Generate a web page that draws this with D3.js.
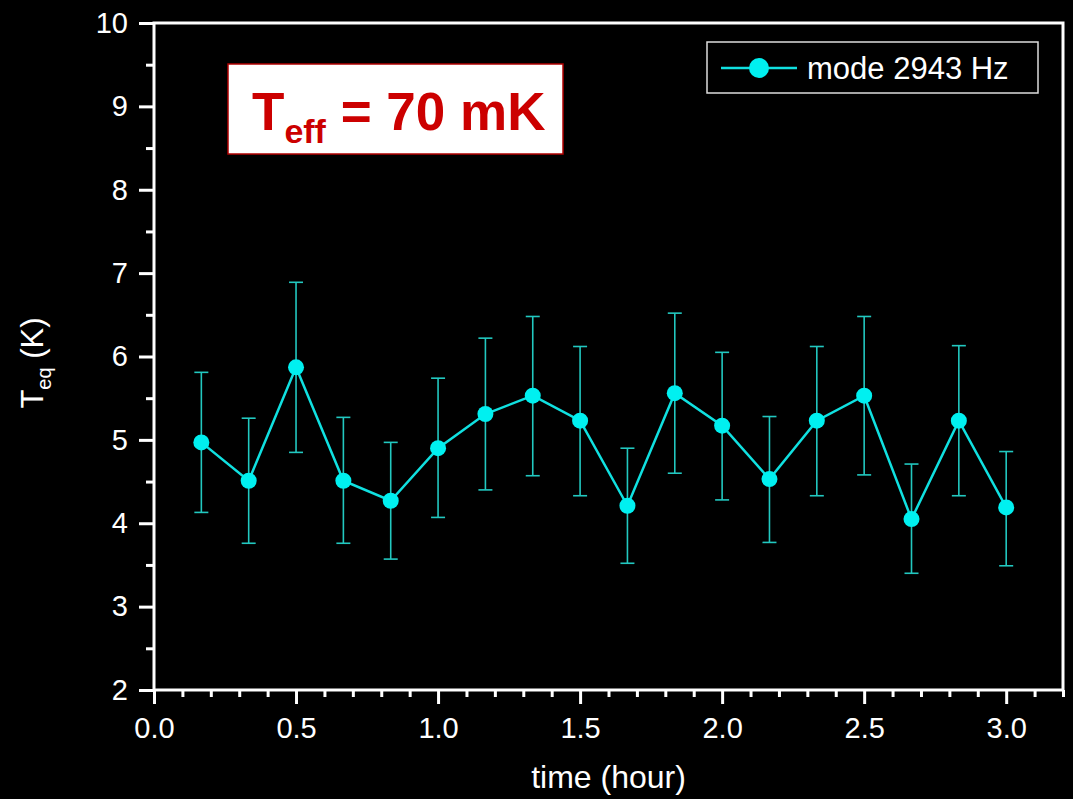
<!DOCTYPE html>
<html>
<head>
<meta charset="utf-8">
<script src="https://cdn.jsdelivr.net/npm/d3@7"></script>
<style>
  body { margin: 0; background: #000; }
  svg { display: block; font-family: "Liberation Sans", Arial, sans-serif; }
</style>
</head>
<body>
<svg></svg>
<script>
const width = 1073
const height = 799

// data
const times = [1/6, 2/6, 3/6, 4/6, 5/6, 1, 7/6, 8/6, 9/6, 10/6, 11/6, 2, 13/6, 14/6, 15/6, 16/6, 17/6, 3]
const teq = [4.97, 4.51, 5.87, 4.51, 4.27, 4.90, 5.31, 5.53, 5.23, 4.21, 5.56, 5.17, 4.53, 5.23, 5.53, 4.05, 5.23, 4.19]
const errHigh = [5.81, 5.26, 6.89, 5.27, 4.97, 5.74, 6.22, 6.48, 6.12, 4.90, 6.52, 6.05, 5.28, 6.12, 6.48, 4.71, 6.13, 4.86]
const errLow = [4.13, 3.76, 4.85, 3.76, 3.57, 4.07, 4.40, 4.57, 4.33, 3.52, 4.60, 4.28, 3.77, 4.33, 4.58, 3.40, 4.33, 3.49]
const xMajor = [0, 0.5, 1.0, 1.5, 2.0, 2.5, 3.0]
const yMajor = [2, 3, 4, 5, 6, 7, 8, 9, 10]
const legendLabel = "mode 2943 Hz"

const data = times.map((t, i) => ({ t: t, v: teq[i], hi: errHigh[i], lo: errLow[i] }))

const svg = d3.select("svg")
    .attr("width", width)
    .attr("height", height)

svg.append("rect").attr("width", width).attr("height", height).attr("fill", "#000")

const margin = { top: 23, right: 10, bottom: 109, left: 154 }
const innerWidth = width - margin.left - margin.right
const innerHeight = height - margin.top - margin.bottom

const xScale = d3.scaleLinear().domain([0, 3.2]).range([0, innerWidth])
const yScale = d3.scaleLinear().domain([2, 10]).range([innerHeight, 0])

const g = svg.append("g")
    .attr("transform", `translate(${margin.left}, ${margin.top})`)

// Axes
const xMinor = d3.range(0, 33).map(d => d / 10).filter(d => Math.abs(d * 2 - Math.round(d * 2)) > 1e-6)
const yMinor = d3.range(2.5, 10, 1)

const styleAxis = sel => {
    sel.selectAll(".domain").remove()
    sel.selectAll(".tick line").attr("stroke", "#fff").attr("stroke-width", 3)
    sel.selectAll("text").attr("fill", "#fff").attr("font-size", "29px")
}
const dropText = sel => sel.selectAll("text").remove()

g.append("g").attr("transform", `translate(0, ${innerHeight})`)
    .call(d3.axisBottom(xScale).tickValues(xMinor).tickSize(7))
    .call(styleAxis).call(dropText)
g.append("g").attr("transform", `translate(0, ${innerHeight})`)
    .call(d3.axisBottom(xScale).tickValues(xMajor).tickSize(14).tickPadding(13).tickFormat(d3.format(".1f")))
    .call(styleAxis)

g.append("g")
    .call(d3.axisLeft(yScale).tickValues(yMinor).tickSize(8))
    .call(styleAxis).call(dropText)
g.append("g")
    .call(d3.axisLeft(yScale).tickValues(yMajor).tickSize(15).tickPadding(11).tickFormat(d3.format("d")))
    .call(styleAxis)

// frame
g.append("rect")
    .attr("width", innerWidth)
    .attr("height", innerHeight)
    .attr("fill", "none")
    .attr("stroke", "#fff")
    .attr("stroke-width", 3)

// Axis titles
svg.append("text")
    .attr("x", margin.left + xScale(1.6))
    .attr("y", 788)
    .attr("text-anchor", "middle")
    .attr("fill", "#fff")
    .attr("font-size", "32px")
    .text("time (hour)")

const yTitle = svg.append("text")
    .attr("transform", "translate(43, 363) rotate(-90)")
    .attr("text-anchor", "middle")
    .attr("fill", "#fff")
    .attr("font-size", "31px")
yTitle.append("tspan").text("T")
yTitle.append("tspan").attr("font-size", "20px").attr("dy", 8).text("eq")
yTitle.append("tspan").attr("dy", -8).text(" (K)")

// error bars
const errColor = "#22c8c0"
const errG = g.append("g").attr("stroke", errColor).attr("stroke-width", 1.6)
errG.selectAll(".err").data(data).enter().append("line")
    .attr("x1", d => xScale(d.t)).attr("x2", d => xScale(d.t))
    .attr("y1", d => yScale(d.hi)).attr("y2", d => yScale(d.lo))
errG.selectAll(".capHi").data(data).enter().append("line")
    .attr("x1", d => xScale(d.t) - 7).attr("x2", d => xScale(d.t) + 7)
    .attr("y1", d => yScale(d.hi)).attr("y2", d => yScale(d.hi))
errG.selectAll(".capLo").data(data).enter().append("line")
    .attr("x1", d => xScale(d.t) - 7).attr("x2", d => xScale(d.t) + 7)
    .attr("y1", d => yScale(d.lo)).attr("y2", d => yScale(d.lo))

// line + markers
const lineColor = "#10e0e0"
const line = d3.line().x(d => xScale(d.t)).y(d => yScale(d.v))
g.append("path").datum(data)
    .attr("d", line)
    .attr("fill", "none")
    .attr("stroke", lineColor)
    .attr("stroke-width", 2.5)

g.selectAll("circle").data(data).enter().append("circle")
    .attr("cx", d => xScale(d.t))
    .attr("cy", d => yScale(d.v))
    .attr("r", 8)
    .attr("fill", "#00f0f0")

// legend
const lg = svg.append("g")
lg.append("rect")
    .attr("x", 707).attr("y", 42).attr("width", 331).attr("height", 51)
    .attr("fill", "none").attr("stroke", "#ddd").attr("stroke-width", 1.5)
lg.append("line").attr("x1", 721).attr("x2", 797).attr("y1", 68).attr("y2", 68)
    .attr("stroke", lineColor).attr("stroke-width", 2.5)
lg.append("circle").attr("cx", 759).attr("cy", 68).attr("r", 10).attr("fill", "#00f0f0")
lg.append("text").attr("x", 807).attr("y", 79)
    .attr("fill", "#fff").attr("font-size", "31px")
    .text(legendLabel)

// annotation box
const ann = svg.append("g")
ann.append("rect")
    .attr("x", 228).attr("y", 64).attr("width", 335).attr("height", 90)
    .attr("fill", "#fff").attr("stroke", "#b00000").attr("stroke-width", 1.5)
const annText = ann.append("text")
    .attr("x", 252).attr("y", 130)
    .attr("fill", "#cc0000")
    .attr("font-weight", "bold")
    .attr("font-size", "53px")
annText.append("tspan").text("T")
annText.append("tspan").attr("font-size", "34px").attr("dy", 13).text("eff")
annText.append("tspan").attr("dy", -13).text(" = 70 mK")
</script>
</body>
</html>
